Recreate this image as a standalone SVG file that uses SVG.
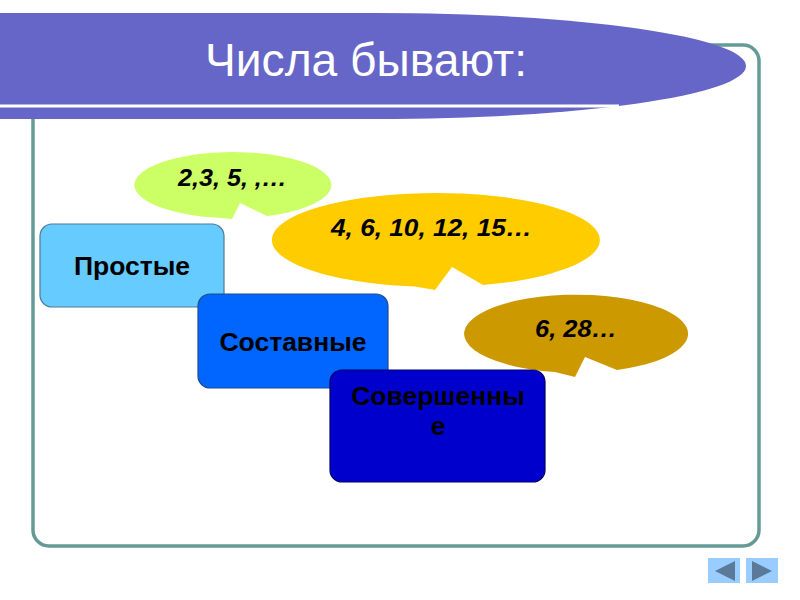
<svg xmlns="http://www.w3.org/2000/svg" width="800" height="600" viewBox="0 0 800 600">
<style>
.bx{stroke-width:1.2}
.lbl{font-family:"Liberation Sans",Arial,sans-serif;font-weight:bold;font-size:26.5px;fill:#000;text-anchor:middle}
.num{font-family:"Liberation Sans",Arial,sans-serif;font-weight:bold;font-style:italic;font-size:23px;fill:#000}
.nav{fill:#99ccff}
.tri{fill:#5b7a99}
</style>
<rect width="800" height="600" fill="#fff"/>
<g id="frame">
<rect x="33" y="45" width="726" height="501" rx="16" ry="16" fill="#fff" stroke="#669a96" stroke-width="3.5"/>
</g>
<g id="title">
<path d="M0,13 H376 A370,53 0 0 1 376,119 H0 Z" fill="#6666c8"/>
<line x1="0" y1="106" x2="619" y2="106" stroke="#fff" stroke-width="3"/>
<text x="205" y="76" font-family="Liberation Sans, Arial, sans-serif" font-size="46" fill="#fff" textLength="322" lengthAdjust="spacingAndGlyphs">Числа бывают:</text>
</g>
<g id="callout-prime">
<path d="M267,216 A98.5,33 0 1 0 215,217.5 L232,219 L240,203 Z" fill="#ccff66"/>
<text class="num" x="178" y="186" textLength="109" lengthAdjust="spacingAndGlyphs">2,3, 5, ,…</text>
</g>
<g id="callout-composite">
<path d="M483,285 A164,47 0 1 0 415,286.6 L435,290 L452,267 Z" fill="#ffcc00"/>
<text class="num" x="331" y="236" textLength="201" lengthAdjust="spacingAndGlyphs">4, 6, 10, 12, 15…</text>
</g>
<g id="callout-perfect">
<path d="M617,370 A112,39 0 1 0 555,372 L575,377 L585,357 Z" fill="#cc9900"/>
<text class="num" x="535" y="337" textLength="82" lengthAdjust="spacingAndGlyphs">6, 28…</text>
</g>
<g id="node-prime">
<rect class="bx" x="40" y="224" width="184" height="83" rx="12" fill="#66ccff" stroke="#4d7a99"/>
<text class="lbl" x="132" y="275">Простые</text>
</g>
<g id="node-composite">
<rect class="bx" x="198" y="294" width="190" height="94" rx="12" fill="#0066ff" stroke="#1f4d8a"/>
<text class="lbl" x="293" y="351">Составные</text>
</g>
<g id="node-perfect">
<rect class="bx" x="330" y="370" width="215" height="112" rx="12" fill="#0000cc" stroke="#000066"/>
<text class="lbl" x="438" y="405">Совершенны</text>
<text class="lbl" x="438" y="435">е</text>
</g>
<g id="nav">
<rect class="nav" x="708" y="558" width="32" height="25"/>
<polygon class="tri" points="715,571 735,561 735,581"/>
<rect class="nav" x="746" y="558" width="32" height="25"/>
<polygon class="tri" points="752,561 772,571 752,581"/>
</g>
<g id="connectors"></g>
</svg>
